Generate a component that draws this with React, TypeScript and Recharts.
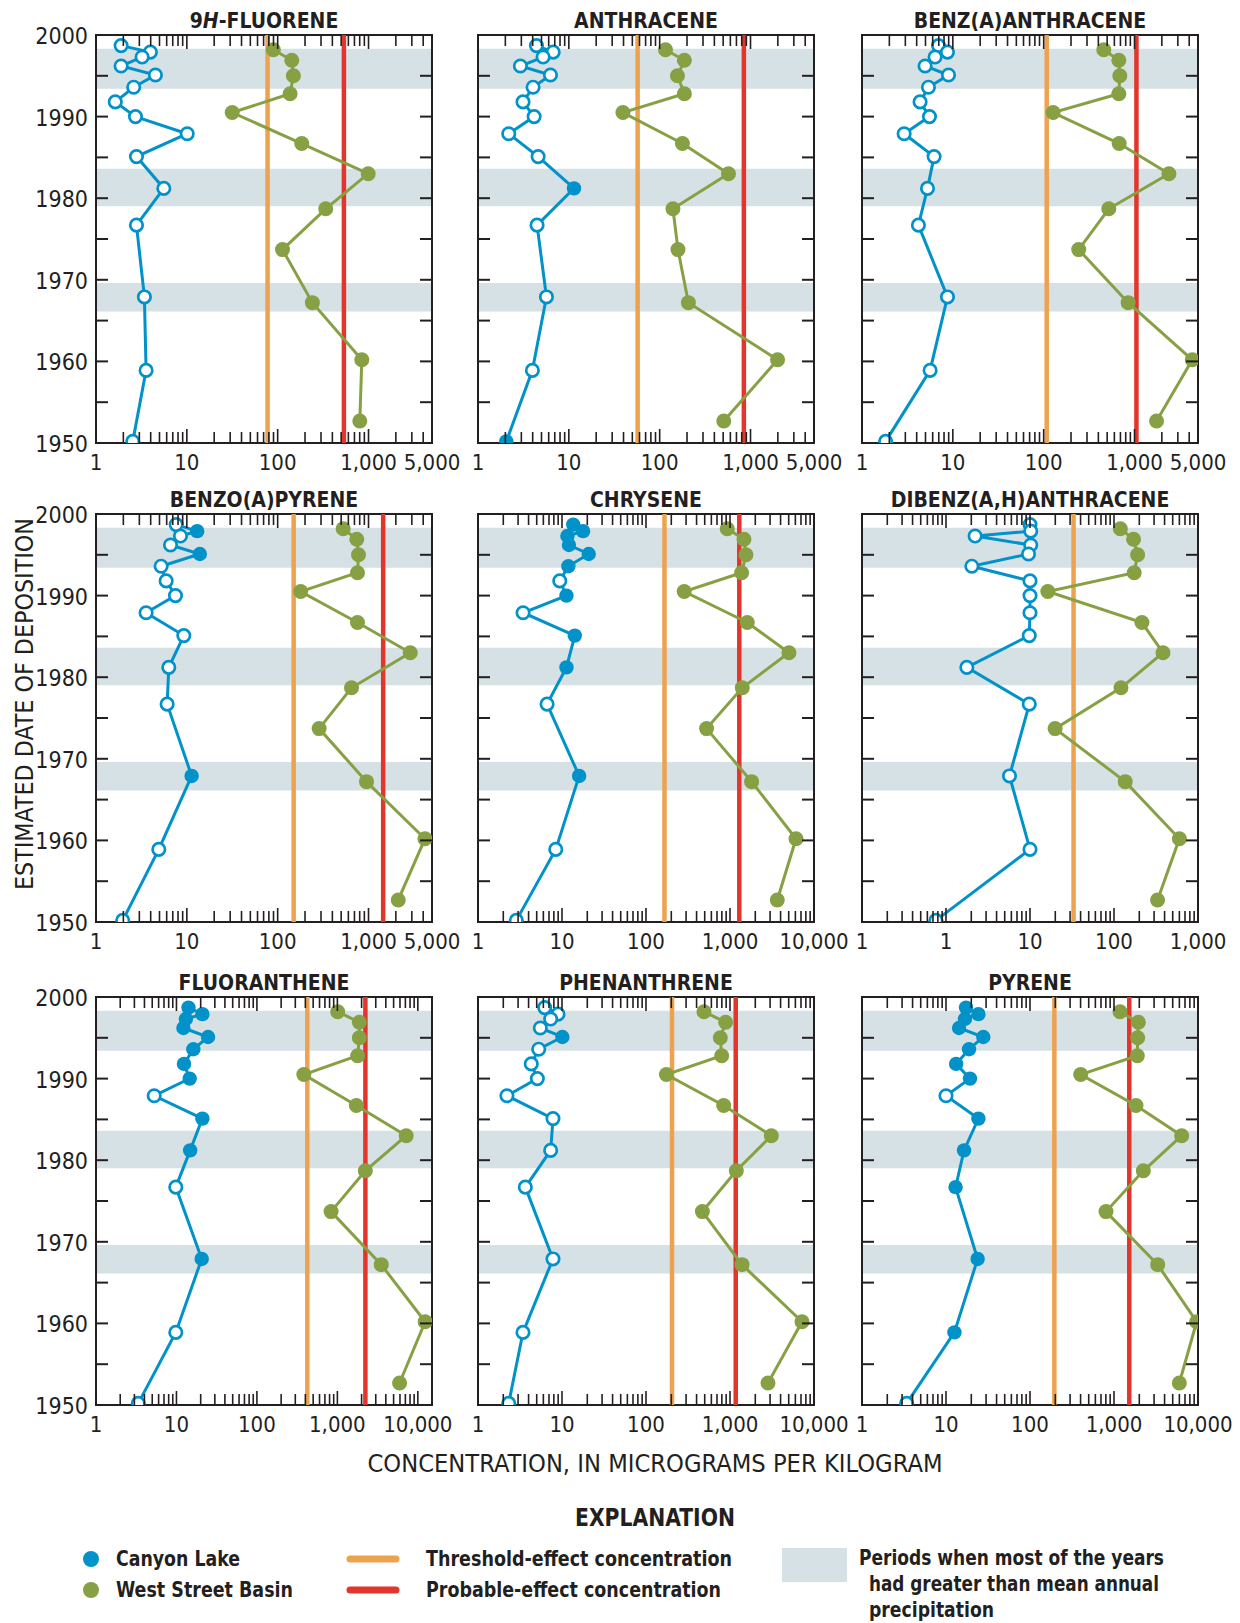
import React from 'react';
import { ScatterChart, Scatter, XAxis, YAxis, ReferenceLine, ReferenceArea } from 'recharts';

// estimated dates of the sediment-core samples (shared by every compound)
const CANYON_YEARS = [1998.7, 1997.9, 1997.3, 1996.2, 1995.1, 1993.6, 1991.8, 1990.0, 1987.9, 1985.1, 1981.2, 1976.7, 1967.9, 1958.9, 1950.2];
const WEST_YEARS = [1998.2, 1996.9, 1995.0, 1992.8, 1990.5, 1986.7, 1983.0, 1978.7, 1973.7, 1967.2, 1960.2, 1952.7];

// wetter-than-average periods (shaded bands)
const WET_START = [1993.4, 1979.0, 1966.1];
const WET_END = [1998.3, 1983.6, 1969.6];

const YEAR_TICKS = [1950, 1955, 1960, 1965, 1970, 1975, 1980, 1985, 1990, 1995, 2000];
const YEAR_LABELS = [1950, 1960, 1970, 1980, 1990, 2000];

const LABELS_5K_AT = [1, 10, 100, 1000, 5000];
const LABELS_5K = ['1', '10', '100', '1,000', '5,000'];
const LABELS_10K_AT = [1, 10, 100, 1000, 10000];
const LABELS_10K = ['1', '10', '100', '1,000', '10,000'];
const LABELS_DBA_AT = [0.1, 1, 10, 100, 1000];
const LABELS_DBA = ['1', '1', '10', '100', '1,000'];

// concentrations, micrograms per kilogram (1 = detected / filled symbol)
const FLUORENE_CANYON = [1.89, 3.97, 3.22, 1.89, 4.51, 2.6, 1.63, 2.72, 10.1, 2.79, 5.58, 2.79, 3.41, 3.56, 2.54];
const FLUORENE_DETECTED = [0, 0, 0, 0, 0, 0, 0, 0, 0, 0, 0, 0, 0, 0, 0];
const FLUORENE_WEST = [89.6, 143, 149, 137, 31.6, 184, 992, 338, 113, 241, 844, 802];

const ANTHRACENE_CANYON = [4.4, 6.72, 5.21, 2.93, 6.28, 4.04, 3.13, 4.15, 2.18, 4.59, 11.4, 4.47, 5.67, 3.97, 2.05];
const ANTHRACENE_DETECTED = [0, 0, 0, 0, 0, 0, 0, 0, 0, 0, 1, 0, 0, 0, 1];
const ANTHRACENE_WEST = [116, 187, 157, 187, 39.4, 178, 572, 140, 159, 207, 1986, 508];

const BAA_CANYON = [6.95, 8.73, 6.38, 4.95, 8.96, 5.39, 4.36, 5.53, 2.91, 6.22, 5.26, 4.18, 8.73, 5.62, 1.82];
const BAA_DETECTED = [0, 0, 0, 0, 0, 0, 0, 0, 0, 0, 0, 0, 0, 0, 0];
const BAA_WEST = [459, 672, 689, 672, 127, 678, 2392, 521, 243, 851, 4325, 1749];

const BAP_CANYON = [7.63, 13.0, 8.51, 6.61, 13.9, 5.21, 5.92, 7.5, 3.56, 9.26, 6.33, 6.07, 11.3, 4.91, 1.97];
const BAP_DETECTED = [0, 1, 0, 0, 1, 0, 0, 0, 0, 0, 0, 0, 1, 0, 0];
const BAP_WEST = [526, 743, 776, 756, 179, 756, 2882, 650, 286, 950, 4181, 2125];

const CHRYSENE_CANYON = [13.6, 17.8, 11.6, 12.1, 20.8, 11.9, 9.4, 11.3, 3.44, 14.2, 11.3, 6.64, 16.0, 8.43, 2.86];
const CHRYSENE_DETECTED = [1, 1, 1, 1, 1, 1, 0, 1, 0, 1, 1, 0, 1, 0, 0];
const CHRYSENE_WEST = [927, 1466, 1549, 1374, 285, 1606, 5035, 1400, 526, 1808, 6106, 3656];

const DBA_CANYON = [10.0, 10.2, 2.22, 10.2, 9.6, 2.03, 10.0, 10.0, 10.0, 9.8, 1.77, 9.8, 5.7, 10.0, 0.76];
const DBA_DETECTED = [0, 0, 0, 0, 0, 0, 0, 0, 0, 0, 0, 0, 0, 0, 0];
const DBA_WEST = [119, 171, 191, 174, 16.3, 215, 383, 121, 19.9, 136, 600, 330];

const FLUORANTHENE_CANYON = [14.1, 21.0, 13.1, 12.2, 24.7, 16.2, 12.4, 14.6, 5.29, 21.0, 14.8, 9.81, 20.6, 9.81, 3.35];
const FLUORANTHENE_DETECTED = [1, 1, 1, 1, 1, 1, 1, 1, 0, 1, 1, 0, 1, 0, 0];
const FLUORANTHENE_WEST = [1009, 1875, 1875, 1786, 383, 1721, 7166, 2224, 835, 3510, 12330, 5929];

const PHENANTHRENE_CANYON = [6.22, 8.96, 7.33, 5.52, 10.1, 5.28, 4.31, 5.09, 2.21, 7.81, 7.33, 3.66, 7.81, 3.43, 2.32];
const PHENANTHRENE_DETECTED = [0, 0, 0, 0, 1, 0, 0, 0, 0, 0, 0, 0, 0, 0, 0];
const PHENANTHRENE_WEST = [490, 888, 767, 796, 175, 841, 3105, 1189, 469, 1390, 7197, 2833];

const PYRENE_CANYON = [17.3, 24.3, 16.8, 14.3, 27.8, 18.8, 13.2, 19.3, 10.0, 24.3, 16.4, 13.0, 23.8, 12.6, 3.4];
const PYRENE_DETECTED = [1, 1, 1, 1, 1, 1, 1, 1, 0, 1, 1, 1, 1, 1, 0];
const PYRENE_WEST = [1179, 1950, 1914, 1896, 401, 1828, 6394, 2235, 803, 3311, 9638, 5995];

const BLUE = '#0092c9';
const GREEN = '#87a044';
const ORANGE = '#eda24f';
const RED = '#e2352c';
const BAND = '#d6e1e6';
const INK = '#231f20';
const NARROW = '"Liberation Sans Narrow", "DejaVu Sans Condensed", "Arial Narrow", Arial, sans-serif';

interface PanelDef {
  title: [string, string, string];
  canyon: number[];
  detected: number[];
  west: number[];
  tec: number;
  pec: number | null;
  domain: [number, number];
  labelAt: number[];
  labels: string[];
}

const PANELS: PanelDef[] = [
  { title: ['9', 'H', '-FLUORENE'], canyon: FLUORENE_CANYON, detected: FLUORENE_DETECTED, west: FLUORENE_WEST, tec: 77.4, pec: 536, domain: [1, 5000], labelAt: LABELS_5K_AT, labels: LABELS_5K },
  { title: ['', '', 'ANTHRACENE'], canyon: ANTHRACENE_CANYON, detected: ANTHRACENE_DETECTED, west: ANTHRACENE_WEST, tec: 57.2, pec: 845, domain: [1, 5000], labelAt: LABELS_5K_AT, labels: LABELS_5K },
  { title: ['', '', 'BENZ(A)ANTHRACENE'], canyon: BAA_CANYON, detected: BAA_DETECTED, west: BAA_WEST, tec: 108, pec: 1050, domain: [1, 5000], labelAt: LABELS_5K_AT, labels: LABELS_5K },
  { title: ['', '', 'BENZO(A)PYRENE'], canyon: BAP_CANYON, detected: BAP_DETECTED, west: BAP_WEST, tec: 150, pec: 1450, domain: [1, 5000], labelAt: LABELS_5K_AT, labels: LABELS_5K },
  { title: ['', '', 'CHRYSENE'], canyon: CHRYSENE_CANYON, detected: CHRYSENE_DETECTED, west: CHRYSENE_WEST, tec: 166, pec: 1290, domain: [1, 10000], labelAt: LABELS_10K_AT, labels: LABELS_10K },
  { title: ['', '', 'DIBENZ(A,H)ANTHRACENE'], canyon: DBA_CANYON, detected: DBA_DETECTED, west: DBA_WEST, tec: 33.0, pec: null, domain: [0.1, 1000], labelAt: LABELS_DBA_AT, labels: LABELS_DBA },
  { title: ['', '', 'FLUORANTHENE'], canyon: FLUORANTHENE_CANYON, detected: FLUORANTHENE_DETECTED, west: FLUORANTHENE_WEST, tec: 423, pec: 2230, domain: [1, 15000], labelAt: LABELS_10K_AT, labels: LABELS_10K },
  { title: ['', '', 'PHENANTHRENE'], canyon: PHENANTHRENE_CANYON, detected: PHENANTHRENE_DETECTED, west: PHENANTHRENE_WEST, tec: 204, pec: 1170, domain: [1, 10000], labelAt: LABELS_10K_AT, labels: LABELS_10K },
  { title: ['', '', 'PYRENE'], canyon: PYRENE_CANYON, detected: PYRENE_DETECTED, west: PYRENE_WEST, tec: 195, pec: 1520, domain: [1, 10000], labelAt: LABELS_10K_AT, labels: LABELS_10K },
];

const COL_LEFT = [96, 478, 862];
const ROW_TOP = [35, 514, 997];
const PLOT_W = 336;
const PLOT_H = 408;
const Y_AXIS_W = 60;
const X_AXIS_H = 40;
const M_TOP = 30;
const M_RIGHT = 40;
const CHART_W = Y_AXIS_W + PLOT_W + M_RIGHT;
const CHART_H = M_TOP + PLOT_H + X_AXIS_H;

// log ticks 1..9 of every decade inside the domain
function logTicks([min, max]: [number, number]): number[] {
  const out: number[] = [];
  for (let e = Math.floor(Math.log10(min)); e <= Math.ceil(Math.log10(max)); e++) {
    for (let k = 1; k <= 9; k++) {
      const v = k * Math.pow(10, e);
      if (v >= min * 0.999 && v <= max * 1.001) out.push(v);
    }
  }
  return out;
}

function makeXTick(p: PanelDef) {
  return (props: any) => {
    const { x, y, payload } = props;
    const v = payload.value;
    const lg = Math.log10(v);
    const major = Math.abs(lg - Math.round(lg)) < 1e-6;
    const len = major ? 14 : 11;
    const li = p.labelAt.findIndex((a) => Math.abs(a - v) / a < 1e-6);
    return (
      <g>
        <line x1={x} x2={x} y1={y} y2={y - len} stroke={INK} strokeWidth={1.6} />
        <line x1={x} x2={x} y1={y - PLOT_H} y2={y - PLOT_H + len} stroke={INK} strokeWidth={1.6} />
        {li >= 0 && (
          <text x={x} y={y + 19} textAnchor="middle" dominantBaseline="central" fontFamily={NARROW} fontSize={22} fill={INK}>
            {p.labels[li]}
          </text>
        )}
      </g>
    );
  };
}

function makeYTick(showLabels: boolean) {
  return (props: any) => {
    const { x, y, payload } = props;
    const v = payload.value;
    return (
      <g>
        <line x1={x} x2={x + 12} y1={y} y2={y} stroke={INK} strokeWidth={2} />
        <line x1={x + PLOT_W - 12} x2={x + PLOT_W} y1={y} y2={y} stroke={INK} strokeWidth={2} />
        {showLabels && YEAR_LABELS.includes(v) && (
          <text x={x - 8} y={y + 1} textAnchor="end" dominantBaseline="central" fontFamily={NARROW} fontSize={23} fill={INK}>
            {v}
          </text>
        )}
      </g>
    );
  };
}

const greenDot = (props: any) => <circle cx={props.cx} cy={props.cy} r={7.5} fill={GREEN} />;

const blueDot = (props: any) =>
  props.payload && props.payload.filled ? (
    <circle cx={props.cx} cy={props.cy} r={7.2} fill={BLUE} />
  ) : (
    <circle cx={props.cx} cy={props.cy} r={6.2} fill="#fff" stroke={BLUE} strokeWidth={2.7} />
  );

function Panel({ p, col, row }: { p: PanelDef; col: number; row: number }): JSX.Element {
  const canyon = CANYON_YEARS.map((year, i) => ({ year, v: p.canyon[i], filled: p.detected[i] === 1 }));
  const west = WEST_YEARS.map((year, i) => ({ year, v: p.west[i] }));
  return (
    <div style={{ position: 'absolute', left: COL_LEFT[col] - Y_AXIS_W, top: ROW_TOP[row] - M_TOP }}>
      <ScatterChart width={CHART_W} height={CHART_H} margin={{ top: M_TOP, right: M_RIGHT, bottom: 0, left: 0 }}>
        <XAxis
          dataKey="v"
          type="number"
          scale="log"
          domain={p.domain}
          allowDataOverflow
          ticks={logTicks(p.domain)}
          interval={0}
          tickSize={0}
          tickMargin={0}
          tickLine={false}
          axisLine={false}
          height={X_AXIS_H}
          tick={makeXTick(p)}
        />
        <YAxis
          dataKey="year"
          type="number"
          domain={[1950, 2000]}
          allowDataOverflow
          ticks={YEAR_TICKS}
          interval={0}
          tickSize={0}
          tickMargin={0}
          tickLine={false}
          axisLine={false}
          width={Y_AXIS_W}
          tick={makeYTick(col === 0)}
        />
        {WET_START.map((s, i) => (
          <ReferenceArea key={i} y1={s} y2={WET_END[i]} fill={BAND} fillOpacity={1} stroke="none" ifOverflow="visible" />
        ))}
        <ReferenceLine x={p.tec} stroke={ORANGE} strokeWidth={4.5} />
        {p.pec !== null && <ReferenceLine x={p.pec} stroke={RED} strokeWidth={4.5} />}
        <Scatter
          data={west}
          fill={GREEN}
          line={{ stroke: GREEN, strokeWidth: 3 }}
          lineType="joint"
          shape={greenDot}
          isAnimationActive={false}
        />
        <Scatter
          data={canyon}
          fill={BLUE}
          line={{ stroke: BLUE, strokeWidth: 3 }}
          lineType="joint"
          shape={blueDot}
          isAnimationActive={false}
        />
        <ReferenceArea
          x1={p.domain[0]}
          x2={p.domain[1]}
          y1={1950}
          y2={2000}
          fill="none"
          stroke={INK}
          strokeWidth={2}
          ifOverflow="visible"
        />
      </ScatterChart>
    </div>
  );
}

function Overlay(): JSX.Element {
  const txt = { fontFamily: NARROW, fill: INK };
  return (
    <svg width={1240} height={1623} style={{ position: 'absolute', left: 0, top: 0 }}>
      {PANELS.map((p, i) => {
        const col = i % 3;
        const row = Math.floor(i / 3);
        return (
          <text
            key={i}
            x={COL_LEFT[col] + PLOT_W / 2}
            y={ROW_TOP[row] - 14}
            textAnchor="middle"
            dominantBaseline="central"
            fontSize={21}
            fontWeight="bold"
            {...txt}
          >
            {p.title[0]}
            {p.title[1] && <tspan fontStyle="italic">{p.title[1]}</tspan>}
            {p.title[2]}
          </text>
        );
      })}
      <text
        transform="translate(24,704) rotate(-90)"
        textAnchor="middle"
        dominantBaseline="central"
        fontSize={25}
        textLength={372}
        lengthAdjust="spacingAndGlyphs"
        {...txt}
      >
        ESTIMATED DATE OF DEPOSITION
      </text>
      <text x={655} y={1463} textAnchor="middle" dominantBaseline="central" fontSize={25} textLength={575} lengthAdjust="spacingAndGlyphs" {...txt}>
        CONCENTRATION, IN MICROGRAMS PER KILOGRAM
      </text>
      <text x={655} y={1517} textAnchor="middle" dominantBaseline="central" fontSize={25} fontWeight="bold" textLength={160} lengthAdjust="spacingAndGlyphs" {...txt}>
        EXPLANATION
      </text>

      <circle cx={91} cy={1559} r={8} fill={BLUE} />
      <text x={116} y={1559} dominantBaseline="central" fontSize={21} fontWeight="bold" textLength={124} lengthAdjust="spacingAndGlyphs" {...txt}>
        Canyon Lake
      </text>
      <circle cx={91} cy={1590} r={8} fill={GREEN} />
      <text x={116} y={1590} dominantBaseline="central" fontSize={21} fontWeight="bold" textLength={177} lengthAdjust="spacingAndGlyphs" {...txt}>
        West Street Basin
      </text>

      <line x1={350} x2={396} y1={1559} y2={1559} stroke={ORANGE} strokeWidth={7} strokeLinecap="round" />
      <text x={426} y={1559} dominantBaseline="central" fontSize={21} fontWeight="bold" textLength={306} lengthAdjust="spacingAndGlyphs" {...txt}>
        Threshold-effect concentration
      </text>
      <line x1={350} x2={396} y1={1590} y2={1590} stroke={RED} strokeWidth={7} strokeLinecap="round" />
      <text x={426} y={1590} dominantBaseline="central" fontSize={21} fontWeight="bold" textLength={295} lengthAdjust="spacingAndGlyphs" {...txt}>
        Probable-effect concentration
      </text>

      <rect x={782} y={1548} width={65} height={34} fill={BAND} />
      <text x={859} y={1558} dominantBaseline="central" fontSize={21} fontWeight="bold" textLength={305} lengthAdjust="spacingAndGlyphs" {...txt}>
        Periods when most of the years
      </text>
      <text x={869} y={1584} dominantBaseline="central" fontSize={21} fontWeight="bold" textLength={290} lengthAdjust="spacingAndGlyphs" {...txt}>
        had greater than mean annual
      </text>
      <text x={869} y={1610} dominantBaseline="central" fontSize={21} fontWeight="bold" textLength={125} lengthAdjust="spacingAndGlyphs" {...txt}>
        precipitation
      </text>
    </svg>
  );
}

export default function App(): JSX.Element {
  return (
    <div style={{ position: 'absolute', left: 0, top: 0, width: 1240, height: 1623, background: '#fff', overflow: 'hidden' }}>
      <Overlay />
      {PANELS.map((p, i) => (
        <Panel key={i} p={p} col={i % 3} row={Math.floor(i / 3)} />
      ))}
    </div>
  );
}
